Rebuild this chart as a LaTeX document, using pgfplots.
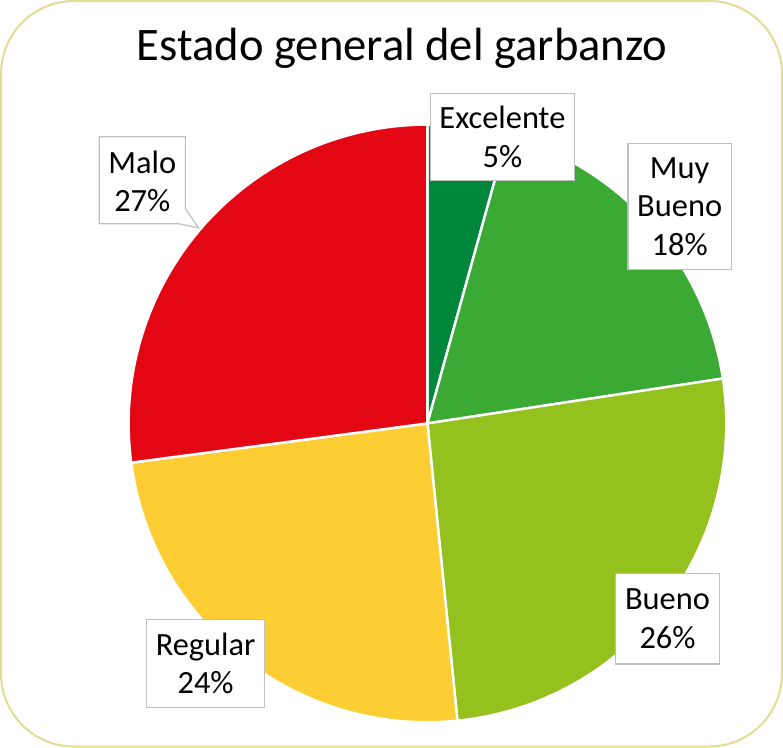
\documentclass[border=0pt]{standalone}
\usepackage{pgfplots}
\pgfplotsset{compat=1.18}
\usepackage{fontspec}
\setmainfont{Carlito}
\definecolor{cexc}{RGB}{0,135,60}
\definecolor{cmuy}{RGB}{58,170,53}
\definecolor{cbue}{RGB}{149,193,31}
\definecolor{creg}{RGB}{253,205,52}
\definecolor{cmal}{RGB}{227,6,19}
\definecolor{frame}{RGB}{226,220,150}
\definecolor{lblbox}{RGB}{191,191,191}

\begin{document}
\begin{tikzpicture}
\begin{axis}[
    hide axis,
    scale only axis,
    width=391.5pt, height=375.5pt,
    xmin=0, xmax=783, ymin=0, ymax=751,
    clip=false,
]
% outer frame
\draw[frame, line width=1pt, rounded corners=36pt] (axis cs:6,7) rectangle (axis cs:777,743);
\node[font=\fontsize{23}{27}\selectfont, anchor=base] at (axis cs:402,684) {Estado general del garbanzo};

% slices, clockwise from 12 o'clock (share in %)
\def\startang{90}
\foreach \p/\col in {4.3/cexc, 18.3/cmuy, 25.8/cbue, 24.5/creg, 27.1/cmal}{
  \pgfmathsetmacro\endang{\startang-3.6*\p}
  \edef\temp{\noexpand\fill[\col, draw=white, line width=1.2pt, line join=round]
    (axis cs:427,326) -- ++(\startang:147.5pt)
    arc[start angle=\startang, end angle=\endang, radius=147.5pt] -- cycle;}
  \temp
  \xdef\startang{\endang}
}

% data labels
\tikzset{lbl/.style={fill=white, draw=lblbox, line width=0.6pt, align=center,
    font=\fontsize{16}{19}\selectfont, inner sep=0pt}}
\node[lbl, minimum width=71pt, minimum height=43pt] at (axis cs:501,609) {Excelente\\5\%};
\node[lbl, minimum width=51pt, minimum height=62pt] at (axis cs:676,540) {Muy\\Bueno\\18\%};
\node[lbl, minimum width=51pt, minimum height=44.5pt] at (axis cs:664,133) {Bueno\\26\%};
\node[lbl, minimum width=58.5pt, minimum height=43.5pt] at (axis cs:208,89) {Regular\\24\%};
% callout for Malo
\filldraw[fill=white, draw=lblbox, line width=0.6pt]
  (axis cs:103,609) -- (axis cs:188,609) -- (axis cs:188,538) -- (axis cs:201,519)
  -- (axis cs:182,523) -- (axis cs:103,523) -- cycle;
\node[align=center, font=\fontsize{16}{19}\selectfont] at (axis cs:145.5,565) {Malo\\27\%};
\end{axis}
\end{tikzpicture}
\end{document}
